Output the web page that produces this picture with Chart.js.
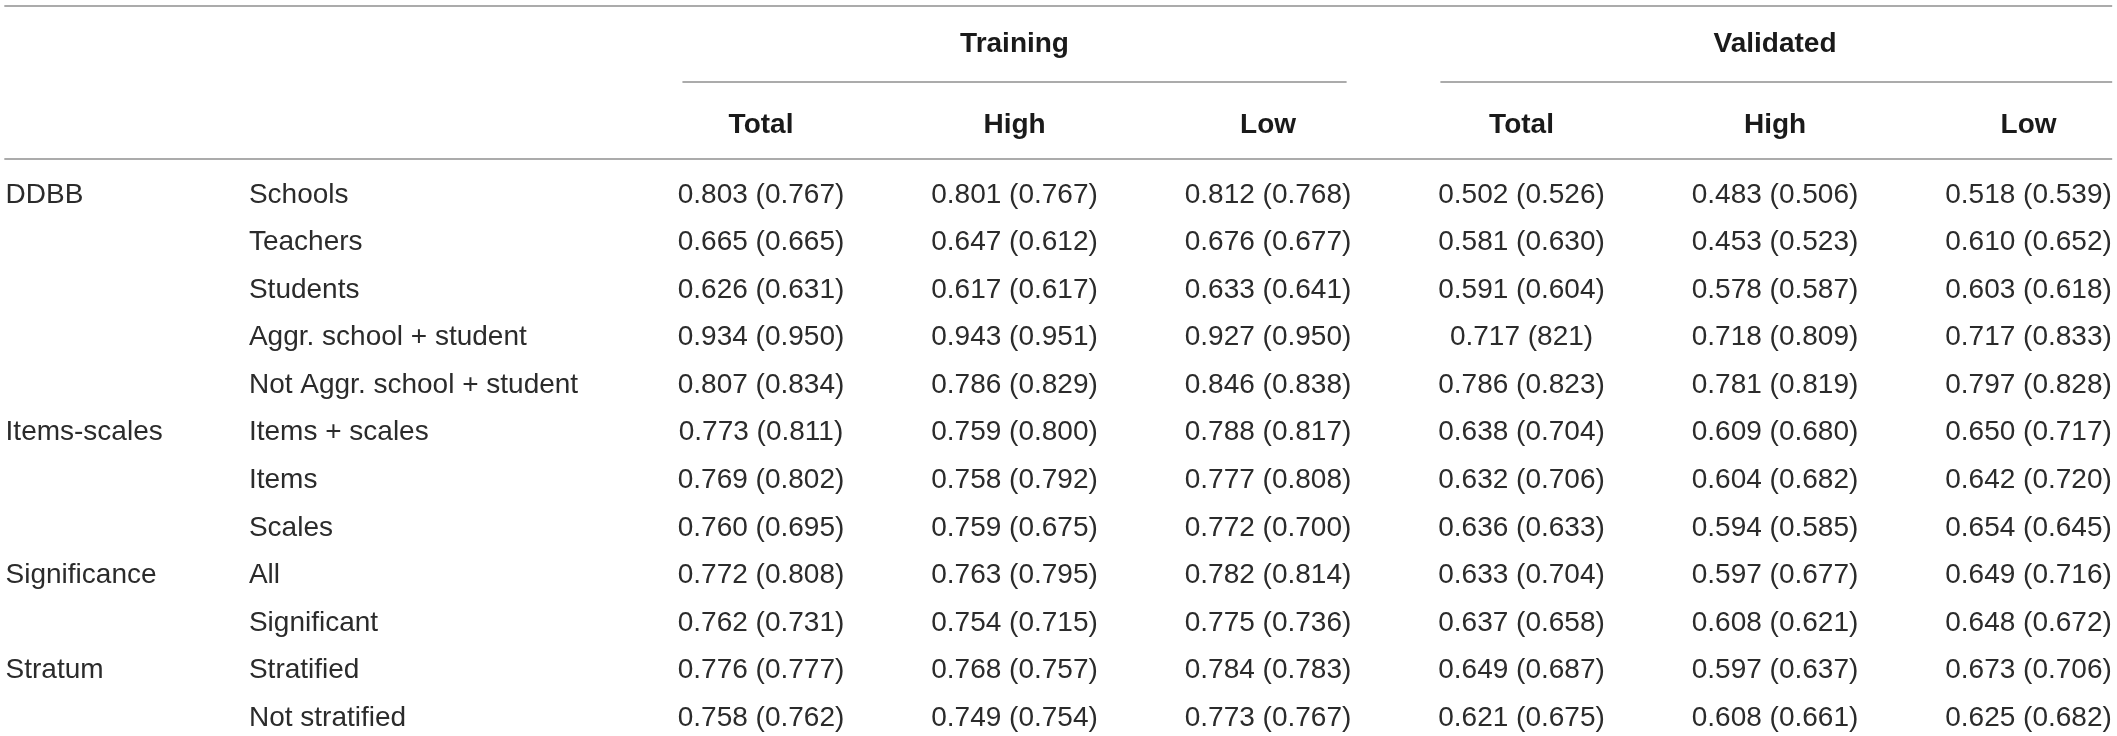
<!DOCTYPE html>
<html>
<head>
<meta charset="utf-8">
<script src="https://cdn.jsdelivr.net/npm/chart.js@4"></script>
<style>
  html, body { margin: 0; padding: 0; background: #fff; }
  #wrap { width: 2117px; height: 736px; position: relative; }
</style>
</head>
<body>
<div id="wrap"><canvas id="tableChart"></canvas></div>
<script>
// === Table data ===
const groups = ["DDBB", "", "", "", "", "Items-scales", "", "", "Significance", "", "Stratum", ""];
const models = [
  "Schools", "Teachers", "Students", "Aggr. school + student", "Not Aggr. school + student",
  "Items + scales", "Items", "Scales", "All", "Significant", "Stratified", "Not stratified"
];
const sampleGroups = ["Training", "Validated"];
const subsets = ["Total", "High", "Low"];

const trainingTotal = ["0.803 (0.767)", "0.665 (0.665)", "0.626 (0.631)", "0.934 (0.950)", "0.807 (0.834)", "0.773 (0.811)", "0.769 (0.802)", "0.760 (0.695)", "0.772 (0.808)", "0.762 (0.731)", "0.776 (0.777)", "0.758 (0.762)"];
const trainingHigh = ["0.801 (0.767)", "0.647 (0.612)", "0.617 (0.617)", "0.943 (0.951)", "0.786 (0.829)", "0.759 (0.800)", "0.758 (0.792)", "0.759 (0.675)", "0.763 (0.795)", "0.754 (0.715)", "0.768 (0.757)", "0.749 (0.754)"];
const trainingLow = ["0.812 (0.768)", "0.676 (0.677)", "0.633 (0.641)", "0.927 (0.950)", "0.846 (0.838)", "0.788 (0.817)", "0.777 (0.808)", "0.772 (0.700)", "0.782 (0.814)", "0.775 (0.736)", "0.784 (0.783)", "0.773 (0.767)"];
const validatedTotal = ["0.502 (0.526)", "0.581 (0.630)", "0.591 (0.604)", "0.717 (821)", "0.786 (0.823)", "0.638 (0.704)", "0.632 (0.706)", "0.636 (0.633)", "0.633 (0.704)", "0.637 (0.658)", "0.649 (0.687)", "0.621 (0.675)"];
const validatedHigh = ["0.483 (0.506)", "0.453 (0.523)", "0.578 (0.587)", "0.718 (0.809)", "0.781 (0.819)", "0.609 (0.680)", "0.604 (0.682)", "0.594 (0.585)", "0.597 (0.677)", "0.608 (0.621)", "0.597 (0.637)", "0.608 (0.661)"];
const validatedLow = ["0.518 (0.539)", "0.610 (0.652)", "0.603 (0.618)", "0.717 (0.833)", "0.797 (0.828)", "0.650 (0.717)", "0.642 (0.720)", "0.654 (0.645)", "0.649 (0.716)", "0.648 (0.672)", "0.673 (0.706)", "0.625 (0.682)"];

const valueColumns = [trainingTotal, trainingHigh, trainingLow, validatedTotal, validatedHigh, validatedLow];

// === Layout in scale units (x: column, y: row) ===
const groupCol = -2.98;
const modelCol = -2.02;
const subsetRow = -1.47;
const sampleRow = -3.18;
const rules = [
  { y: -3.95, from: -2.985, to: 5.33 },
  { y: -2.36, from: -0.31, to: 2.31 },
  { y: -2.36, from: 2.68, to: 5.33 },
  { y: -0.74, from: -2.985, to: 5.33 }
];

const BODY_FONT = "28px 'Liberation Sans', Arial, sans-serif";
const HEAD_FONT = "bold 28px 'Liberation Sans', Arial, sans-serif";

// === Build cells ===
const cells = [];
models.forEach((m, r) => {
  if (groups[r]) cells.push({ x: groupCol, y: r, text: groups[r], align: "left", font: BODY_FONT, color: "#2b2b2b" });
  cells.push({ x: modelCol, y: r, text: m, align: "left", font: BODY_FONT, color: "#2b2b2b" });
  valueColumns.forEach((col, c) => {
    cells.push({ x: c, y: r, text: col[r], align: "center", font: BODY_FONT, color: "#2b2b2b" });
  });
});
subsets.concat(subsets).forEach((s, c) => {
  cells.push({ x: c, y: subsetRow, text: s, align: "center", font: HEAD_FONT, color: "#1a1a1a" });
});
sampleGroups.forEach((g, i) => {
  cells.push({ x: 1 + i * 3, y: sampleRow, text: g, align: "center", font: HEAD_FONT, color: "#1a1a1a" });
});

// === Plugin: rules + cell text ===
const tablePlugin = {
  id: "tableText",
  afterDatasetsDraw(chart) {
    const { ctx, scales: { x, y } } = chart;
    ctx.save();
    ctx.strokeStyle = "#ababab";
    ctx.lineWidth = 2;
    rules.forEach(rule => {
      const py = Math.round(y.getPixelForValue(rule.y));
      ctx.beginPath();
      ctx.moveTo(x.getPixelForValue(rule.from), py);
      ctx.lineTo(x.getPixelForValue(rule.to), py);
      ctx.stroke();
    });

    const meta = chart.getDatasetMeta(0);
    ctx.textBaseline = "middle";
    meta.data.forEach((pt, i) => {
      const cell = cells[i];
      ctx.font = cell.font;
      ctx.fillStyle = cell.color;
      ctx.textAlign = cell.align;
      ctx.fillText(cell.text, pt.x, pt.y + 1);
    });
    ctx.restore();
  }
};

new Chart(document.getElementById("tableChart").getContext("2d"), {
  type: "scatter",
  data: {
    datasets: [{
      data: cells.map(c => ({ x: c.x, y: c.y })),
      pointRadius: 0,
      pointHoverRadius: 0
    }]
  },
  options: {
    responsive: true,
    maintainAspectRatio: false,
    animation: false,
    layout: { padding: 0 },
    plugins: { legend: { display: false }, tooltip: { enabled: false } },
    events: [],
    scales: {
      x: { type: "linear", min: -3.002, max: 5.349, display: false },
      y: { type: "linear", min: -4.08, max: 11.40, reverse: true, display: false }
    }
  },
  plugins: [tablePlugin]
});
</script>
</body>
</html>
